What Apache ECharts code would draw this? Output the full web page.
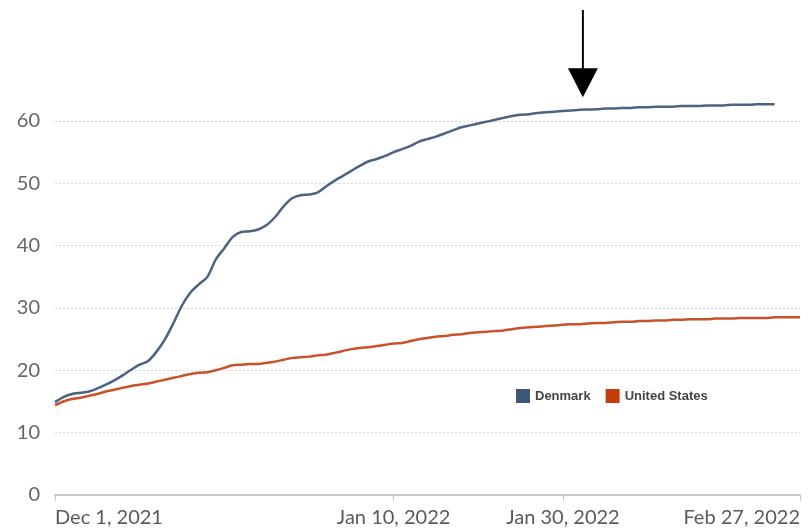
<!DOCTYPE html>
<html>
<head>
<meta charset="utf-8">
<script src="https://cdn.jsdelivr.net/npm/echarts@6/dist/echarts.min.js"></script>
<style>
  html, body { margin: 0; padding: 0; background: #fff; }
  #main { width: 810px; height: 532px; }
</style>
</head>
<body>
<div id="main"></div>
<script>
// daily dates from Dec 1, 2021 to Feb 27, 2022
var months = ['Jan','Feb','Mar','Apr','May','Jun','Jul','Aug','Sep','Oct','Nov','Dec'];
var dates = [];
for (var i = 0; i < 89; i++) {
  var d = new Date(Date.UTC(2021, 11, 1 + i));
  dates.push(months[d.getUTCMonth()] + ' ' + d.getUTCDate() + ', ' + d.getUTCFullYear());
}
var tickLabels = ['Dec 1, 2021', 'Jan 10, 2022', 'Jan 30, 2022', 'Feb 27, 2022'];

var denmark = [14.9, 15.7, 16.2, 16.4, 16.6, 17.1, 17.7, 18.4, 19.2, 20.1,
  20.9, 21.5, 23.0, 25.0, 27.6, 30.4, 32.5, 33.8, 35.0, 37.8,
  39.6, 41.4, 42.2, 42.3, 42.6, 43.3, 44.6, 46.3, 47.6, 48.1,
  48.2, 48.5, 49.5, 50.4, 51.2, 52.0, 52.8, 53.5, 53.9, 54.4,
  55.0, 55.5, 56.0, 56.7, 57.1, 57.5, 58.0, 58.5, 59.0, 59.3,
  59.6, 59.9, 60.2, 60.5, 60.8, 61.0, 61.1, 61.3, 61.4, 61.5,
  61.6, 61.7, 61.8, 61.85, 61.9, 62.0, 62.0, 62.1, 62.1, 62.2,
  62.2, 62.3, 62.3, 62.3, 62.4, 62.4, 62.4, 62.5, 62.5, 62.5,
  62.6, 62.6, 62.6, 62.7, 62.7, 62.7, null, null, null];

var unitedStates = [14.4, 15.0, 15.4, 15.6, 15.9, 16.2, 16.6, 16.9, 17.2, 17.5,
  17.7, 17.9, 18.2, 18.5, 18.8, 19.1, 19.4, 19.6, 19.7, 20.0,
  20.4, 20.8, 20.9, 21.0, 21.0, 21.2, 21.4, 21.7, 22.0, 22.1,
  22.2, 22.4, 22.5, 22.8, 23.1, 23.4, 23.6, 23.7, 23.9, 24.1,
  24.3, 24.4, 24.7, 25.0, 25.2, 25.4, 25.5, 25.7, 25.8, 26.0,
  26.1, 26.2, 26.3, 26.4, 26.6, 26.8, 26.9, 27.0, 27.1, 27.2,
  27.3, 27.4, 27.4, 27.5, 27.6, 27.6, 27.7, 27.8, 27.8, 27.9,
  27.9, 28.0, 28.0, 28.1, 28.1, 28.2, 28.2, 28.2, 28.3, 28.3,
  28.3, 28.4, 28.4, 28.4, 28.4, 28.5, 28.5, 28.5, 28.5];

// arrow annotation: date and value range (tip, tail)
var arrowDate = 'Feb 1, 2022';
var arrowTip = 63.8;
var arrowTail = 77.8;

var chart = echarts.init(document.getElementById('main'));

function showTick(idx, val) {
  return tickLabels.indexOf(val) >= 0;
}

option = {
  backgroundColor: '#fff',
  animation: false,
  grid: { left: 55, right: 10, top: 121, bottom: 37 },
  legend: {
    left: 516, top: 389, padding: 0,
    itemWidth: 14, itemHeight: 14, itemGap: 15,
    icon: 'rect',
    textStyle: { fontSize: 13, color: '#444', fontFamily: 'Liberation Sans', fontWeight: 'bold' },
    data: ['Denmark', 'United States']
  },
  xAxis: {
    type: 'category',
    boundaryGap: false,
    data: dates,
    axisLine: { lineStyle: { color: '#c8c8c8', width: 2 } },
    axisTick: { interval: showTick, length: 6, lineStyle: { color: '#c8c8c8', width: 1 } },
    axisLabel: {
      interval: showTick,
      margin: 13,
      fontSize: 20,
      fontFamily: 'Lato',
      color: '#5a5a5a',
      alignMinLabel: 'left',
      alignMaxLabel: 'right'
    },
    splitLine: { show: false }
  },
  yAxis: {
    type: 'value',
    min: 0, max: 60, interval: 10,
    axisLine: { show: false },
    axisTick: { show: false },
    axisLabel: { fontSize: 20, fontFamily: 'Lato', color: '#666', margin: 15 },
    splitLine: { lineStyle: { color: '#d8d8d8', type: [2, 2], width: 1 } }
  },
  series: [
    {
      name: 'Denmark', type: 'line', data: denmark, clip: false,
      showSymbol: false, smooth: 0.3,
      itemStyle: { color: '#3f5879' },
      lineStyle: { color: '#4d6383', width: 2.5 }
    },
    {
      name: 'United States', type: 'line', data: unitedStates, clip: false,
      showSymbol: false, smooth: 0.3,
      itemStyle: { color: '#c33d0f' },
      lineStyle: { color: '#c8532a', width: 2.5 }
    }
  ]
};
chart.setOption(option);

var tip = chart.convertToPixel({ xAxisIndex: 0, yAxisIndex: 0 }, [arrowDate, arrowTip]);
var tail = chart.convertToPixel({ xAxisIndex: 0, yAxisIndex: 0 }, [arrowDate, arrowTail]);
var headH = 29, headW = 15;
chart.setOption({
  graphic: [
    {
      type: 'line',
      shape: { x1: tip[0] + 3, y1: tail[1], x2: tip[0] + 3, y2: tip[1] - headH + 2 },
      style: { stroke: '#000', lineWidth: 2 }
    },
    {
      type: 'polygon',
      shape: { points: [[tip[0] + 3 - headW, tip[1] - headH], [tip[0] + 3 + headW, tip[1] - headH], [tip[0] + 3, tip[1]]] },
      style: { fill: '#000' }
    }
  ]
});
</script>
</body>
</html>
